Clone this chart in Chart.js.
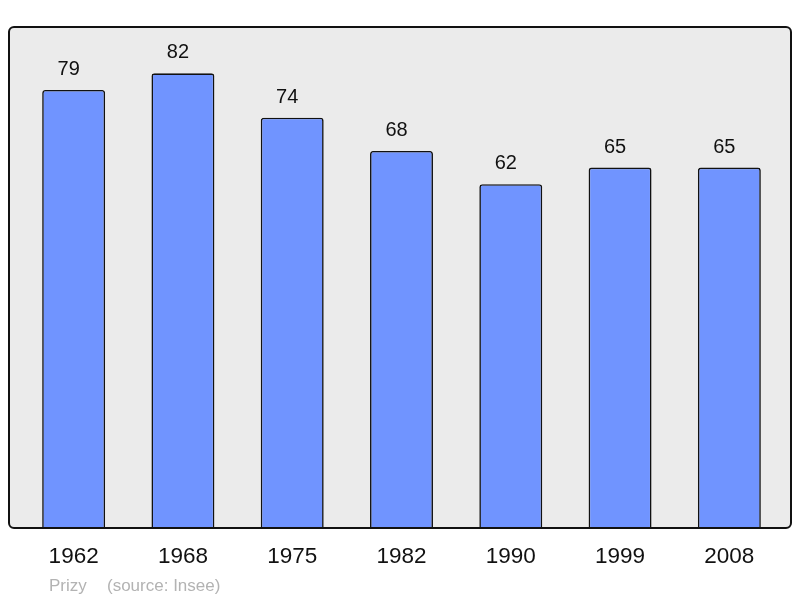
<!DOCTYPE html>
<html>
<head>
<meta charset="utf-8">
<script src="https://cdn.jsdelivr.net/npm/chart.js@4/dist/chart.umd.min.js"></script>
<style>
html,body{margin:0;padding:0;background:#fff;}
#wrap{width:800px;height:598px;}
</style>
</head>
<body>
<div id="wrap"><canvas id="c" width="800" height="598"></canvas></div>
<script>
const years = ["1962", "1968", "1975", "1982", "1990", "1999", "2008"];
const population = [79, 82, 74, 68, 62, 65, 65];
const footerName = "Prizy";
const footerSource = "(source: Insee)";

const FONT = "'Liberation Sans', Arial, sans-serif";

const framePlugin = {
  id: 'frame',
  beforeDatasetsDraw(chart) {
    const {ctx, chartArea: a} = chart;
    ctx.save();
    ctx.beginPath();
    ctx.roundRect(a.left - 10, a.top - 2, (a.right + 7) - (a.left - 10), a.bottom - (a.top - 2), 5);
    ctx.fillStyle = '#ebebeb';
    ctx.fill();
    ctx.restore();
  },
  afterDatasetsDraw(chart) {
    const {ctx, chartArea: a} = chart;
    ctx.save();
    ctx.beginPath();
    ctx.roundRect(a.left - 10, a.top - 2, (a.right + 7) - (a.left - 10), a.bottom - (a.top - 2), 5);
    ctx.lineWidth = 2;
    ctx.strokeStyle = '#111';
    ctx.stroke();
    // value labels
    const meta = chart.getDatasetMeta(0);
    ctx.fillStyle = '#111';
    ctx.font = '20px ' + FONT;
    ctx.textAlign = 'center';
    ctx.textBaseline = 'alphabetic';
    meta.data.forEach((bar, i) => {
      ctx.fillText(String(chart.data.datasets[0].data[i]), bar.x - 5, bar.y - 15);
    });
    // footer
    ctx.fillStyle = '#b3b3b3';
    ctx.font = '17px ' + FONT;
    ctx.textAlign = 'left';
    ctx.fillText(footerName, 49, 591);
    ctx.fillText(footerSource, 107, 591);
    ctx.restore();
  }
};

new Chart(document.getElementById('c'), {
  type: 'bar',
  data: {
    labels: years,
    datasets: [{
      data: population,
      backgroundColor: '#7094ff',
      borderColor: '#111',
      borderWidth: 1.6,
      borderRadius: 3,
      borderSkipped: 'bottom',
      barPercentage: 0.576,
      categoryPercentage: 1
    }]
  },
  options: {
    responsive: false,
    animation: false,
    layout: { padding: { left: 19, right: 16, top: 29, bottom: 0 } },
    plugins: { legend: { display: false }, tooltip: { enabled: false }, title: { display: false } },
    scales: {
      x: {
        grid: { display: false, drawTicks: false },
        border: { display: false },
        ticks: { color: '#111', font: { family: FONT, size: 22.5 }, padding: 15, maxRotation: 0 },
        afterFit(scale) { scale.height = 70; }
      },
      y: {
        display: false,
        min: 0,
        max: 90
      }
    }
  },
  plugins: [framePlugin]
});
</script>
</body>
</html>
